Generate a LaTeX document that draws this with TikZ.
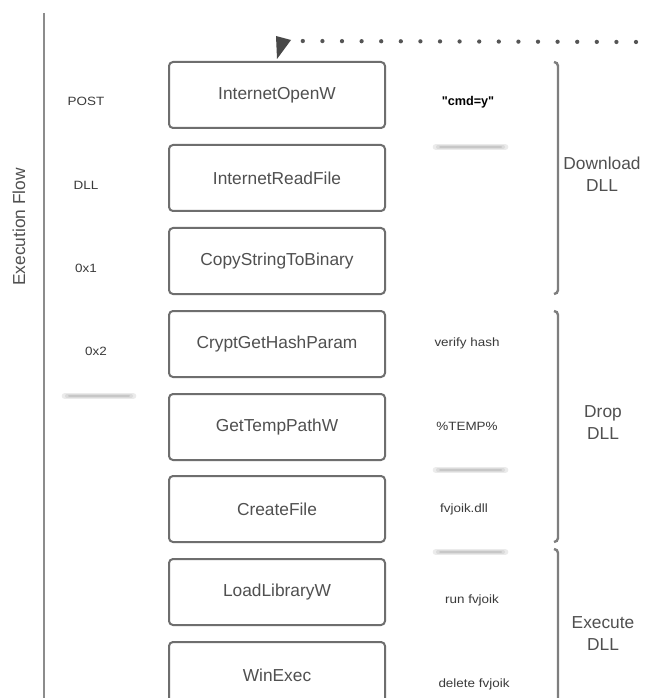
\documentclass[tikz,border=0pt]{standalone}
\usepackage{fontspec}
\setmainfont{Liberation Sans}[Ligatures=TeXOff]
\usetikzlibrary{calc}
\definecolor{boxline}{HTML}{6E6E6E}
\definecolor{boxtext}{HTML}{505050}
\definecolor{brk}{HTML}{7E7E7E}
\definecolor{axis}{HTML}{8C8C8C}
\definecolor{lbl}{HTML}{3A3A3A}
\definecolor{dotc}{HTML}{555555}
\newcommand{\widetext}[1]{\scalebox{1.12}[1]{#1}}
\tikzset{
  apibox/.style={draw=boxline, line width=1.5pt, rounded corners=3pt, minimum width=162pt, minimum height=49.5pt, inner sep=0pt, text=boxtext, font=\fontsize{13}{15}\selectfont},
  small/.style={text=lbl, inner sep=0pt, font=\fontsize{9}{10}\selectfont},
  phase/.style={text=boxtext, inner sep=0pt, align=center, font=\fontsize{13}{16.5}\selectfont},
  brack/.style={draw=brk, line width=1.8pt},
  dotline/.style={draw=dotc, line width=3.2pt, line cap=round, dash pattern=on 0pt off 14.7pt},
}
\begin{document}
\begin{tikzpicture}[x=0.75pt,y=-0.75pt]
\clip (0,0) rectangle (646,698);
\fill[white] (0,0) rectangle (646,698);

% left axis
\draw[axis, line width=1.3pt] (44,13) -- (44,698);
\node[rotate=90, anchor=base, text=boxtext, inner sep=0pt, font=\fontsize{13}{15}\selectfont] (ef) at (25,227) {Execution Flow};

% boxes
\node[apibox] (b1) at (277,95) {InternetOpenW};
\node[apibox] (b2) at (277,178) {InternetReadFile};
\node[apibox] (b3) at (277,261) {CopyStringToBinary};
\node[apibox] (b4) at (277,344) {CryptGetHashParam};
\node[apibox] (b5) at (277,427) {GetTempPathW};
\node[apibox] (b6) at (277,509) {CreateFile};
\node[apibox] (b7) at (277,592) {LoadLibraryW};
\node[apibox] (b8) at (277,675) {WinExec};

% dotted feedback line and arrow head
\coordinate (dotend) at (636,42);
\draw[dotline] (dotend) -- ($(b1.north)+(22,-20)$);
\fill[dotc!85!black] ($(b1.north)+(-1,-25)$) -- ($(b1.north)+(14,-21)$) -- ($(b1.north)+(0,-2)$) -- cycle;

% left labels
\node[small] (l1) at (86,101) {\widetext{POST}};
\node[small] (l2) at (86,185) {\widetext{DLL}};
\node[small] (l3) at (86,268) {\widetext{0x1}};
\node[small] (l4) at (96,351) {\widetext{0x2}};

% right labels
\node[small, text=black, font=\fontsize{9.5}{11}\selectfont\bfseries] (r1) at (468,102) {"cmd=y"};
\node[small] (r2) at (467,343) {\widetext{verify hash}};
\node[small] (r3) at (467,426) {\widetext{\%TEMP\%}};
\node[small] (r4) at (464,509) {\widetext{fvjoik.dll}};
\node[small] (r5) at (472,600) {\widetext{run fvjoik}};
\node[small] (r6) at (474,684) {\widetext{delete fvjoik}};

% soft shadow lines
\foreach \xa/\xb/\yy in {436/505/147, 65/133/396, 436/505/470, 436/505/552}{
  \draw[black!8, line width=5pt, line cap=round] (\xa,\yy) -- (\xb,\yy);
  \draw[black!14, line width=3pt, line cap=round] (\xa+2,\yy) -- (\xb-2,\yy);
  \draw[black!22, line width=1.5pt, line cap=round] (\xa+4,\yy) -- (\xb-4,\yy);
}

% brackets
\draw[brack] (554,62) to[out=0,in=90] (558,66) -- (558,290) to[out=-90,in=0] (554,294);
\draw[brack] (554,311) to[out=0,in=90] (558,315) -- (558,538) to[out=-90,in=0] (554,542);
\draw[brack] (554,549) to[out=0,in=90] (558,553) -- (558,700);

% phase labels
\node[phase] (p1) at (602,174) {Download\\DLL};
\node[phase] (p2) at (603,423) {Drop\\DLL};
\node[phase] (p3) at (603,634) {Execute\\DLL};
\end{tikzpicture}
\end{document}
